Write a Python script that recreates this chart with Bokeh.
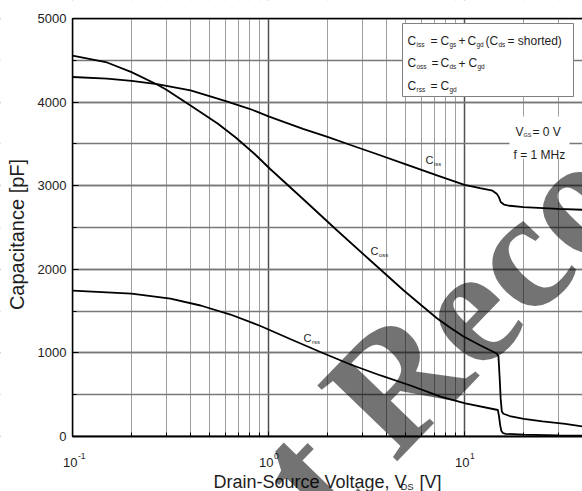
import math

from bokeh.plotting import figure
from bokeh.models import FixedTicker, SingleIntervalTicker, Label, LogAxis
from bokeh.embed import file_html
from bokeh.resources import INLINE

# ---- capacitance curves (V_DS in volts, capacitance in pF) ----
vds_ciss = [0.1, 0.15, 0.2, 0.27, 0.4, 0.6, 0.8, 1.0, 1.5, 2.0, 2.6, 3.5, 4.9,
            7.3, 10.0, 12.0, 13.9, 14.6, 15.0, 15.3, 15.9, 17.0, 20.0, 30.0, 40.0]
ciss = [4300, 4280, 4255, 4215, 4140, 4015, 3920, 3830, 3680, 3585, 3490, 3385, 3265,
        3120, 3010, 2970, 2940, 2905, 2860, 2805, 2775, 2760, 2743, 2722, 2712]

vds_coss = [0.1, 0.15, 0.2, 0.27, 0.3, 0.4, 0.55, 0.68, 0.85, 1.02, 1.51, 2.24, 3.31,
            4.9, 6.0, 7.26, 8.5, 9.84, 12.07, 14.6, 14.9, 15.1, 15.3, 15.5, 15.8, 17.0,
            20.1, 25.0, 32.7, 40.0]
coss = [4557, 4474, 4358, 4211, 4151, 3959, 3744, 3577, 3379, 3200, 2835, 2464, 2105,
        1746, 1573, 1411, 1298, 1200, 1089, 993, 960, 720, 450, 300, 272, 245,
        211, 180, 151, 120]

vds_crss = [0.1, 0.2, 0.316, 0.45, 0.64, 0.91, 1.29, 1.84, 2.62, 3.73, 5.3, 7.55,
            10.1, 14.8, 15.0, 15.2, 15.4, 15.7, 16.2, 20.0, 30.0, 40.0]
crss = [1746, 1710, 1650, 1567, 1459, 1322, 1166, 1011, 861, 730, 610, 478,
        395, 317, 240, 140, 70, 42, 32, 22, 14, 10]

# ---- axes ----
x_major = [0.1, 1, 10]
x_major_exp = ["-1", "0", "1"]
x_minor = [0.2, 0.3, 0.4, 0.5, 0.6, 0.7, 0.8, 0.9, 2, 3, 4, 5, 6, 7, 8, 9, 20, 30, 40]
x_min = 0.1
y_min, y_max = 0, 5000

# canvas layout (pixels); the frame fills the whole canvas and the axes sit inside it
W, H = 582, 491
AX_L, AX_T, AX_B = 72, 18, 436   # plot-area left / top / bottom edges
DECADE = 196                     # pixels per decade on the x axis
PER_PF = (AX_B - AX_T) / (y_max - y_min)


def px_x(px):
    return 10 ** (math.log10(x_min) + (px - AX_L) / DECADE)


def px_y(py):
    return y_min + (AX_B - py) / PER_PF


x_lo, x_hi = px_x(0), px_x(W)
y_lo, y_hi = px_y(H), px_y(0)

p = figure(width=W, height=H, x_axis_type="log", x_range=(x_lo, x_hi), y_range=(y_lo, y_hi),
           output_backend="svg", toolbar_location=None, min_border=0)
p.outline_line_color = None
p.background_fill_color = "white"
p.border_fill_color = "white"

# y axis on the left edge of the plot area
yax = p.yaxis[0]
yax.fixed_location = x_min
yax.bounds = (y_min, y_max)
yax.ticker = SingleIntervalTicker(interval=1000, num_minor_ticks=2)
yax.major_label_text_font = "Liberation Sans"
yax.major_label_text_font_size = "13px"
yax.major_label_text_color = "#222222"
yax.major_label_standoff = 6
yax.major_tick_in = 6
yax.major_tick_out = 0
yax.minor_tick_in = 4
yax.minor_tick_out = 0
yax.axis_line_width = 1.5
yax.major_tick_line_width = 1.2

# x axis along y = 0
xticker = FixedTicker(ticks=x_major, minor_ticks=x_minor)
xax = p.xaxis[0]
xax.fixed_location = y_min
xax.bounds = (x_min, x_hi)
xax.ticker = xticker
xax.major_label_overrides = {v: "" for v in x_major}
xax.major_tick_in = 5
xax.major_tick_out = 0
xax.minor_tick_in = 4
xax.minor_tick_out = 0
xax.axis_line_width = 2

# top border of the plot area
top = LogAxis(fixed_location=y_max, bounds=(x_min, x_hi), ticker=FixedTicker(ticks=[]),
              major_tick_line_color=None, minor_tick_line_color=None, axis_line_width=1.5)
p.add_layout(top, "above")

p.xgrid.grid_line_color = "#505050"
p.xgrid.grid_line_width = 1.5
p.xgrid.minor_grid_line_color = "#a0a0a0"
p.xgrid.minor_grid_line_width = 1
p.ygrid.grid_line_color = "#787878"
p.ygrid.grid_line_width = 1.3
p.ygrid.minor_grid_line_color = "#787878"
p.ygrid.minor_grid_line_width = 1.3

# keep the grid inside the plot area
p.quad(left=[x_lo, x_lo, x_lo], right=[x_hi, x_min, x_hi],
       top=[y_min, y_hi, y_hi], bottom=[y_lo, y_lo, y_max],
       fill_color="white", line_color=None)


def put(text, px, py, size, font="Liberation Sans", align="left", baseline="alphabetic", **kw):
    kw.setdefault("text_color", "#1e1e1e")
    p.add_layout(Label(x=px, y=H - py, x_units="screen", y_units="screen",
                       text=text, text_font=font, text_font_size=f"{size}px",
                       text_align=align, text_baseline=baseline, **kw))


# white boxes behind the legend and the test conditions
p.quad(left=[px_x(402)], right=[px_x(573)], top=[px_y(23)], bottom=[px_y(96)],
       fill_color="white", line_color="#808080", line_width=1)
p.quad(left=[px_x(509)], right=[px_x(569)], top=[px_y(116)], bottom=[px_y(158)],
       fill_color="white", line_color=None)

# curves
for xs, ys in ((vds_ciss, ciss), (vds_coss, coss), (vds_crss, crss)):
    p.line(xs, ys, line_color="black", line_width=1.8)

# x tick labels: 10 with a raised exponent
for v, e in zip(x_major, x_major_exp):
    tx = AX_L + DECADE * (math.log10(v) - math.log10(x_min))
    put("10", tx + 5, 462, 13, align="right")
    put(e, tx + 5.5, 455, 8.5)

# axis titles
put("Capacitance [pF]", 16, 234, 20, align="center", baseline="middle", angle=90, angle_units="deg")
put("Drain-Source Voltage, V", 213, 481, 18)
put("DS", 400, 485.5, 9.5)
put("[V]", 419, 481, 18)

# curve names
for name, sub, cx, cy in (("C", "iss", 425, 159), ("C", "oss", 370, 250), ("C", "rss", 303, 337)):
    put(name, cx, cy, 11)
    put(sub, cx + 8.5, cy + 4, 6)

# legend rows: (baseline, [(text, x, is_subscript)])
legend_rows = [
    (40, [("C", 407, 0), ("iss", 416, 1), ("=", 430, 0), ("C", 440, 0), ("gs", 449, 1),
          ("+", 458, 0), ("C", 467, 0), ("gd", 476, 1), ("(C", 485, 0), ("ds", 498, 1),
          ("= shorted)", 507, 0)]),
    (62.5, [("C", 407, 0), ("oss", 416, 1), ("=", 431, 0), ("C", 440, 0), ("ds", 449, 1),
            ("+", 458, 0), ("C", 468, 0), ("gd", 477, 1)]),
    (85.5, [("C", 407, 0), ("rss", 416, 1), ("=", 430, 0), ("C", 440, 0), ("gd", 449, 1)]),
]
for base, segs in legend_rows:
    for txt, sx, sub in segs:
        if sub:
            put(txt, sx, base + 3.5, 6.5)
        else:
            put(txt, sx, base, 12)

# test conditions
put("V", 515, 131, 12)
put("GS", 523, 134.5, 5.5)
put("= 0 V", 532, 131, 12)
put("f = 1 MHz", 513, 154, 12)

# diagonal watermark
wm_angle = 46
wm_size = 168
wm_r_origin = (353, 424)         # baseline start of the "R"
lead = 1.805 * wm_size           # advance of "Not " in bold serif
ca, sa = math.cos(math.radians(wm_angle)), math.sin(math.radians(wm_angle))
ax = wm_r_origin[0] - lead * ca
ay = wm_r_origin[1] + lead * sa
p.add_layout(Label(x=ax, y=H - ay, x_units="screen", y_units="screen",
                   text="Not Recommended for New Designs", text_font="Liberation Serif",
                   text_font_style="bold", text_font_size=f"{wm_size}px",
                   text_color="black", text_alpha=0.55, angle=wm_angle, angle_units="deg",
                   text_align="left", text_baseline="alphabetic"))

open("out.html", "w").write(file_html(p, INLINE))
